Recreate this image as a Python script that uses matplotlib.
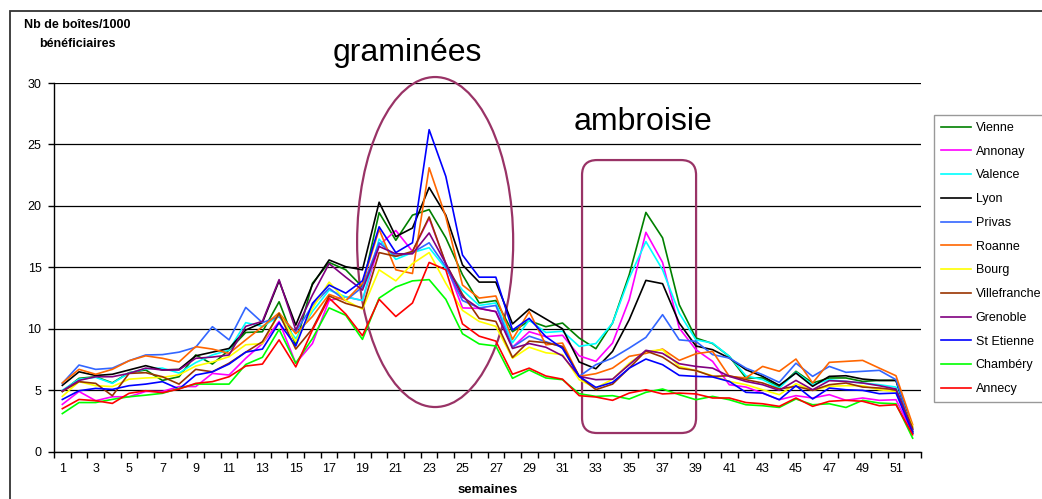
import matplotlib
matplotlib.use('Agg')
import matplotlib.pyplot as plt
from matplotlib.patches import Ellipse, FancyBboxPatch, Rectangle

plt.rcParams['font.family'] = ['Liberation Sans', 'DejaVu Sans']

weeks = list(range(1, 53))

vienne = [4.9, 5.97, 6.1, 5.6, 6.43, 6.65, 5.8, 6.1, 7.87, 7.13, 8.27, 9.7, 9.76, 12.2, 8.7, 13.7,
          15.4, 14.8, 13.4, 19.45, 17.2, 19.25, 19.7, 17.4, 14.4, 12.1, 12.3, 9.76, 10.66, 10.17,
          10.47, 9.25, 8.38, 10.47, 14.4, 19.47, 17.4, 11.96, 9.25, 8.8, 7.76, 6.0, 6.0, 5.26,
          6.54, 5.59, 6.0, 6.0, 5.72, 5.8, 5.8, 1.5]
annonay = [3.85, 4.9, 4.15, 4.47, 4.47, 4.9, 4.9, 5.3, 5.3, 6.37, 6.24, 7.6, 8.8, 10.6, 7.2, 8.8,
           12.3, 12.6, 12.3, 16.8, 18.0, 16.3, 19.0, 15.3, 11.7, 11.66, 11.4, 8.5, 9.76, 9.36,
           9.47, 7.8, 7.35, 8.84, 12.37, 17.85, 15.4, 10.06, 8.3, 7.35, 5.45, 5.26, 4.77, 4.23,
           4.56, 4.37, 4.64, 4.18, 4.37, 4.18, 4.23, 1.5]
valence = [5.0, 5.9, 6.05, 5.56, 6.4, 6.75, 6.8, 6.4, 7.25, 7.87, 8.27, 10.5, 10.2, 11.0, 9.2, 11.4,
           13.15, 12.6, 12.3, 17.3, 15.65, 16.2, 16.6, 14.9, 13.15, 11.9, 12.1, 8.87, 10.7, 9.7,
           9.8, 8.57, 8.8, 10.47, 14.13, 17.1, 14.8, 11.28, 9.1, 8.84, 7.76, 6.18, 5.86, 5.18,
           6.46, 5.45, 5.86, 5.72, 5.59, 5.45, 5.26, 1.6]
lyon = [5.4, 6.5, 6.2, 6.3, 6.65, 7.0, 6.65, 6.7, 7.8, 8.1, 8.4, 9.9, 10.5, 13.9, 10.3, 13.6,
        15.6, 15.05, 14.8, 20.3, 17.5, 18.2, 21.5, 19.25, 15.2, 13.8, 13.8, 10.4, 11.6, 10.8,
        10.0, 7.3, 6.75, 8.16, 10.74, 13.94, 13.67, 10.47, 8.6, 8.3, 7.62, 6.67, 6.13, 5.4,
        6.4, 5.32, 6.13, 6.18, 5.91, 5.8, 5.8, 1.8]
privas = [5.56, 7.05, 6.7, 6.8, 7.4, 7.87, 7.9, 8.1, 8.5, 10.17, 9.1, 11.74, 10.5, 11.0, 9.76, 11.9,
          13.3, 12.3, 13.4, 17.0, 15.9, 16.2, 17.0, 15.05, 12.3, 11.7, 11.9, 8.5, 9.4, 8.95,
          8.5, 6.13, 7.08, 7.62, 8.43, 9.3, 11.15, 9.1, 8.98, 7.9, 7.62, 6.8, 6.27, 5.64,
          7.2, 6.13, 6.94, 6.46, 6.54, 6.62, 5.86, 1.65]
roanne = [5.6, 6.7, 6.3, 6.7, 7.4, 7.8, 7.6, 7.3, 8.55, 8.35, 8.0, 9.1, 10.17, 11.3, 9.6, 11.0,
          12.8, 12.3, 13.7, 18.1, 14.8, 14.5, 23.1, 19.1, 13.56, 12.5, 12.67, 9.14, 11.4, 8.7,
          8.84, 6.13, 6.35, 6.8, 7.76, 8.0, 8.35, 7.43, 7.97, 8.16, 6.13, 6.0, 6.94, 6.54,
          7.54, 5.59, 7.27, 7.35, 7.43, 6.8, 6.18, 2.2]
bourg = [4.5, 5.7, 5.37, 5.3, 5.9, 6.0, 6.05, 6.25, 6.97, 7.3, 7.73, 8.7, 8.8, 11.25, 8.95, 11.66,
         13.8, 12.3, 11.6, 14.8, 13.9, 15.3, 16.2, 13.7, 11.5, 10.6, 10.2, 7.6, 8.5, 8.05,
         7.9, 5.86, 5.18, 5.9, 7.2, 8.16, 8.3, 6.94, 6.6, 6.18, 5.72, 5.45, 5.04, 4.64,
         5.53, 4.99, 5.32, 5.37, 5.37, 5.04, 4.9, 2.06]
villefranche = [4.9, 5.7, 5.56, 4.55, 6.37, 6.43, 6.1, 5.5, 6.7, 6.5, 7.2, 8.1, 8.95, 11.25, 8.35, 10.0,
                12.67, 12.07, 11.7, 16.2, 15.9, 16.3, 19.1, 15.3, 12.8, 10.85, 10.6, 7.67, 9.0, 8.87,
                8.57, 6.13, 5.05, 5.5, 6.8, 8.2, 7.7, 6.8, 6.6, 6.13, 6.18, 5.86, 5.59, 5.1,
                5.32, 4.99, 5.45, 5.59, 5.26, 5.18, 5.04, 1.93]
grenoble = [4.95, 5.8, 6.1, 6.1, 6.37, 6.8, 6.65, 6.65, 7.6, 7.7, 7.87, 10.2, 10.6, 14.0, 9.9, 12.75,
            15.3, 14.2, 13.15, 16.7, 16.1, 16.1, 17.8, 15.3, 12.6, 11.66, 11.4, 8.4, 8.8, 8.5,
            7.8, 6.13, 5.86, 5.9, 7.08, 8.25, 8.0, 7.16, 6.94, 6.8, 6.13, 5.72, 5.45, 4.99,
            5.8, 5.04, 5.78, 5.72, 5.59, 5.37, 5.1, 1.65]
st_etienne = [4.25, 4.96, 5.15, 5.07, 5.37, 5.5, 5.7, 5.1, 6.24, 6.5, 7.13, 8.1, 8.35, 10.5, 8.6, 12.07,
              13.56, 12.9, 13.9, 18.3, 16.2, 17.0, 26.2, 22.4, 16.0, 14.2, 14.2, 9.9, 10.85, 9.36,
              8.4, 6.13, 5.23, 5.64, 6.8, 7.54, 7.08, 6.21, 6.13, 6.08, 5.72, 4.83, 4.77, 4.23,
              5.37, 4.29, 5.18, 5.04, 4.99, 4.72, 4.77, 1.52]
chambery = [3.1, 4.0, 4.0, 4.26, 4.47, 4.6, 4.75, 5.15, 5.5, 5.5, 5.5, 7.1, 7.68, 9.95, 7.2, 9.2,
            11.7, 11.1, 9.14, 12.5, 13.4, 13.9, 14.0, 12.4, 9.6, 8.77, 8.6, 5.97, 6.65, 6.0,
            5.86, 4.72, 4.5, 4.56, 4.29, 4.83, 5.1, 4.64, 4.23, 4.5, 4.23, 3.82, 3.74, 3.6,
            4.29, 3.82, 3.9, 3.6, 4.18, 3.96, 3.9, 1.1]
annecy = [3.5, 4.25, 4.15, 3.93, 4.75, 4.96, 4.8, 5.1, 5.56, 5.7, 6.1, 6.97, 7.13, 9.1, 6.9, 9.9,
          12.5, 11.2, 9.44, 12.4, 11.0, 12.1, 15.4, 14.8, 10.4, 9.4, 9.0, 6.3, 6.8, 6.16,
          5.9, 4.56, 4.45, 4.18, 4.77, 5.04, 4.7, 4.77, 4.7, 4.37, 4.37, 4.0, 3.9, 3.69,
          4.37, 3.69, 4.1, 4.18, 4.1, 3.74, 3.82, 1.38]

names = ['Vienne', 'Annonay', 'Valence', 'Lyon', 'Privas', 'Roanne', 'Bourg',
         'Villefranche', 'Grenoble', 'St Etienne', 'Chambéry', 'Annecy']
series = [vienne, annonay, valence, lyon, privas, roanne, bourg,
          villefranche, grenoble, st_etienne, chambery, annecy]
colors = ['#008000', '#FF00FF', '#00FFFF', '#000000', '#3366FF', '#FF6600', '#FFFF00',
          '#993300', '#800080', '#0000FF', '#00FF00', '#FF0000']

fig = plt.figure(figsize=(10.42, 4.99), dpi=100)
ax = fig.add_axes([54/1042, 1 - 451.7/499, (921-54)/1042, (451.7-83)/499])

for name, vals, c in zip(names, series, colors):
    ax.plot(weeks, vals, color=c, lw=1.2, label=name)

ax.set_xlim(0.5, 52.5)
ax.set_ylim(0, 30)
ax.set_yticks(range(0, 31, 5))
ax.yaxis.grid(True, color='black', lw=0.9)
ax.set_axisbelow(True)
for s in ['top', 'right']:
    ax.spines[s].set_visible(False)
ax.spines['left'].set_linewidth(1.0)
ax.spines['bottom'].set_linewidth(1.0)
ax.tick_params(axis='y', length=4, width=1, pad=5, labelsize=9)

# ticks between categories, labels on odd weeks
ax.set_xticks([w + 0.5 for w in range(0, 53)])
ax.set_xticklabels([])
ax.set_xticks(weeks[::2], minor=True)
ax.set_xticklabels([str(w) for w in weeks[::2]], minor=True)
ax.tick_params(axis='x', which='major', length=4, width=1)
ax.tick_params(axis='x', which='minor', length=0, pad=8, labelsize=9)

fig.text(487.5/1042, 1 - 490/499, 'semaines', ha='center', va='center',
         fontsize=9.5, fontweight='bold')
fig.text(77/1042, 1 - 34.5/499, 'Nb de boîtes/1000\nbénéficiaires', ha='center', va='center',
         fontsize=9, fontweight='bold', linespacing=1.75)

# annotations
ell = Ellipse((23.36, 17.06), 9.36, 26.85, fill=False, ec='#993366', lw=1.6, clip_on=False)
ax.add_patch(ell)
box = FancyBboxPatch((32.17, 1.52), 39.01 - 32.17, 23.73 - 1.52,
                     boxstyle='round,pad=0,rounding_size=0.9', mutation_aspect=1.356,
                     fill=False, ec='#993366', lw=1.6, clip_on=False)
ax.add_patch(box)
ax.text(21.7, 31.8, 'graminées', fontsize=23, ha='center', va='baseline', clip_on=False)
ax.text(35.8, 26.2, 'ambroisie', fontsize=23, ha='center', va='baseline', clip_on=False)

leg = fig.legend(loc='upper left', bbox_to_anchor=(934/1042, 1 - 115/499), fontsize=9,
                 frameon=True, fancybox=False, edgecolor='#808080', borderaxespad=0,
                 handlelength=2.4, handletextpad=0.4, labelspacing=0.94, borderpad=0.55)
leg.get_frame().set_linewidth(1.0)

fig.patches.append(Rectangle((10/1042, -0.1), 1.2, 1 - 11/499 + 0.1, transform=fig.transFigure,
                             fill=False, ec='#333333', lw=1.3))

fig.savefig('out.png', dpi=100)
